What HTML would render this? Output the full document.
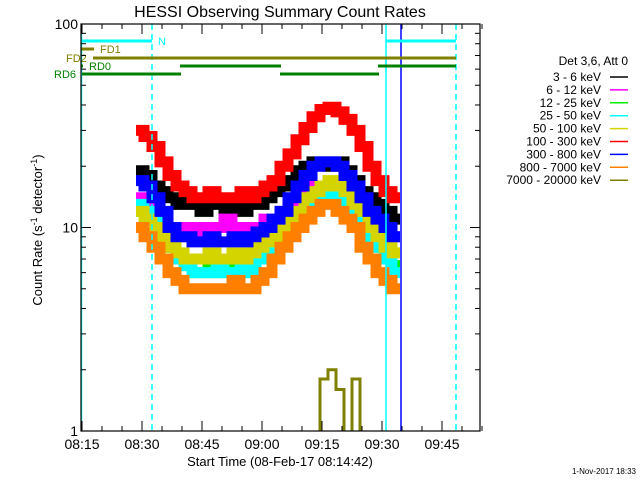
<!DOCTYPE html>
<html><head><meta charset="utf-8"><style>
body{margin:0;background:#fff;}
svg{display:block;font-family:"Liberation Sans",sans-serif;}
</style></head><body>
<svg id="c" width="640" height="480" viewBox="0 0 640 480">
<defs><clipPath id="pc"><rect x="81" y="24" width="399" height="407"/></clipPath></defs>
<text x="280" y="17" font-size="16" text-anchor="middle">HESSI Observing Summary Count Rates</text>
<text transform="translate(42,230) rotate(-90)" font-size="13" text-anchor="middle">Count Rate (s<tspan font-size="9" dy="-5">-1</tspan><tspan dy="5"> detector</tspan><tspan font-size="9" dy="-5">-1</tspan><tspan dy="5">)</tspan></text>
<text x="280" y="466" font-size="13" text-anchor="middle">Start Time (08-Feb-17 08:14:42)</text>
<text x="636" y="474" font-size="8" text-anchor="end">1-Nov-2017 18:33</text>
<g id="series" clip-path="url(#pc)"></g>
<g id="flags"></g>
<g id="axes"></g>
<g id="legend"></g>
</svg>
<script>
const times=[14.5,16.5,18.5,20.5,22.5,24.5,26.5,28.5,30.5,32.5,34.5,36.5,38.5,40.5,42.5,44.5,46.5,48.5,50.5,52.5,54.5,56.5,58.5,60.5,62.5,64.5,66.5,68.5,70.5,72.5,74.5,76.5,78.5];
const names=["3 - 6 keV","6 - 12 keV","12 - 25 keV","25 - 50 keV","50 - 100 keV","100 - 300 keV","300 - 800 keV","800 - 7000 keV","7000 - 20000 keV"];
const colors=["#000000","#ff00ff","#00ee00","#00ffff","#d4d400","#ff0000","#0000ff","#ff8000","#808000"];
const s36=[19,18,16,15,14,13,14,13,12,14,13,12,13,12,14,13,14,15,16,17,19,20,21,21,20,21,19,17,15,14,13,12,11];
const s612=[14,13,12,11,10,10,9,10,9,10,10,11,10,10,9,10,11,11,12,13,14,15,16,16,15,16,14,13,12,11,10,9,9];
const s1225=[12,11,10,9,8,7,6.5,6,6,6.5,6,6,6.5,6,6.5,7,7.5,8,9,10,11,12,13,14,14,13,12,11,10,9,8,7,6.5];
const s2550=[13,12,11,10,8,7,6.5,6,6,6,6.5,6,6,6.5,6,7,7.5,8,9,10,11,12,13,14,15,14,13,11,10,9,8,7,6];
const s50100=[12,11,10,9,8,7.5,7,7,7,7.5,7,7,7.5,7,7.5,8,8.5,9,10,11,12,14,15,16,17,16,15,13,12,10,9,8,7.5];
const s100300=[30,28,25,21,18,16,15,14,14,15,14,14,14,15,14,15,16,17,20,23,27,31,35,38,39,37,34,30,25,20,17,15,14];
const s300800=[17,16,14,12,10,9,9,8.5,8.5,9,8.5,8.5,9,8.5,9,9.5,10,11,12,14,16,18,20,21,21,20,18,16,14,12,11,10,9];
const s8007000=[10,9,8,7,6,5.5,5,5,5,5,5,5,5.5,5,5,5.5,6,7,8,9,10,11,12,13,13,12,11,10,8,7,6,5.5,5];
const s7000=[0.5,0.5,0.5,0.5,0.5,0.5,0.5,0.5,0.5,0.5,0.5,0.5,0.5,0.5,0.5,0.5,0.5,0.5,0.5,0.5,0.5,0.5,0.5,1.8,2,1.6,0.5,1.8,0.5,0.5,0.5,0.5,0.5];
const series=[s36,s612,s1225,s2550,s50100,s100300,s300800,s8007000,s7000];
const yMajor=[1,10,100];
const xTickLabels=["08:15","08:30","08:45","09:00","09:15","09:30","09:45"];
const xTickMins=[0,15,30,45,60,75,90];
const NS="http://www.w3.org/2000/svg";
const L=81,R=480,T=24,B=431;
function X(t){return L+1+t*4;}
function Y(v){return B-(B-T)/2*Math.log10(v);}
function mk(tag,attrs,parent){const e=document.createElementNS(NS,tag);for(const k in attrs)e.setAttribute(k,attrs[k]);parent.appendChild(e);return e;}
const gs=document.getElementById('series');
series.forEach((s,i)=>{
  let d="";
  s.forEach((v,j)=>{const x0=X(times[j]-1),x1=X(times[j]+1),y=Y(v);d+=(j?"L":"M")+x0+","+y+"L"+x1+","+y;});
  const band=mk('path',{d:d,fill:"none",stroke:colors[i],"stroke-width":i==8?3:11,"stroke-linejoin":"miter"},gs);
  
  
});
const gf=document.getElementById('flags');
function bar(x1,x2,y,c,w,name){const e=mk('line',{x1:x1,x2:x2,y1:y,y2:y,stroke:c,"stroke-width":w},gf);}
function txt(x,y,s,c,name){const e=mk('text',{x:x,y:y,fill:c,"font-size":11},gf);e.textContent=s;}
function vl(x,c,dash,name){const e=mk('line',{x1:x,x2:x,y1:T,y2:B,stroke:c,"stroke-width":1.5,"stroke-dasharray":dash},gf);}
vl(81.5,"#00ffff","none","night-start-line");
vl(152,"#00ffff","6,4","night-end-line");
vl(386,"#00ffff","none","night2-start-line");
vl(401,"#0000ff","none","data-end-line");
vl(456,"#00ffff","6,4","night2-end-line");
bar(81,152,41,"#00ffff",3,"night-bar-1");bar(386,456,41,"#00ffff",3,"night-bar-2");
txt(158,45,"N","#00ffff","night-label");
bar(81,94,49,"#808000",3,"fd1-bar");txt(100,53,"FD1","#808000","fd1-label");
bar(93,456,58,"#808000",3,"fd2-bar");txt(66,62,"FD2","#808000","fd2-label");
bar(81,83,66,"#008000",3,"rd0-bar-0");bar(180,281,66,"#008000",3,"rd0-bar-1");bar(378,456,66,"#008000",3,"rd0-bar-2");txt(89,70,"RD0","#008000","rd0-label");
bar(82,181,74,"#008000",3,"rd6-bar-1");bar(280,379,74,"#008000",3,"rd6-bar-2");txt(54,78,"RD6","#008000","rd6-label");
const ga=document.getElementById('axes');
const fr=mk('rect',{x:L,y:T,width:R-L,height:B-T,fill:"none",stroke:"#000","stroke-width":1.2},ga);

for(let d=0;d<2;d++)for(let k=2;k<=9;k++){const y=Y(k*Math.pow(10,d));mk('line',{x1:L,x2:L+5,y1:y,y2:y,stroke:"#000"},ga);mk('line',{x1:R-5,x2:R,y1:y,y2:y,stroke:"#000"},ga);}
yMajor.forEach(v=>{const y=Y(v);mk('line',{x1:L,x2:L+10,y1:y,y2:y,stroke:"#000"},ga);mk('line',{x1:R-10,x2:R,y1:y,y2:y,stroke:"#000"},ga);
 const t=mk('text',{x:L-3,y:y+5,"font-size":14,"text-anchor":"end"},ga);t.textContent=String(v);});
for(let m=0;m<=100;m+=5){const x=X(m);const len=m%15==0?10:5;mk('line',{x1:x,x2:x,y1:B-len,y2:B,stroke:"#000"},ga);mk('line',{x1:x,x2:x,y1:T,y2:T+len,stroke:"#000"},ga);}
xTickLabels.forEach((s,i)=>{const t=mk('text',{x:X(xTickMins[i]),y:449,"font-size":14,"text-anchor":"middle"},ga);t.textContent=s;});
const gl=document.getElementById('legend');
const lh=mk('text',{x:628,y:65,"font-size":12,"text-anchor":"end"},gl);lh.textContent="Det 3,6, Att 0";
names.forEach((n,i)=>{const y=77+i*12.9;
 const t=mk('text',{x:601,y:y+4,"font-size":12,"text-anchor":"end"},gl);t.textContent=n;
 const l=mk('line',{x1:610,x2:628,y1:y,y2:y,stroke:colors[i],"stroke-width":1.5},gl);});
</script>
</body></html>
